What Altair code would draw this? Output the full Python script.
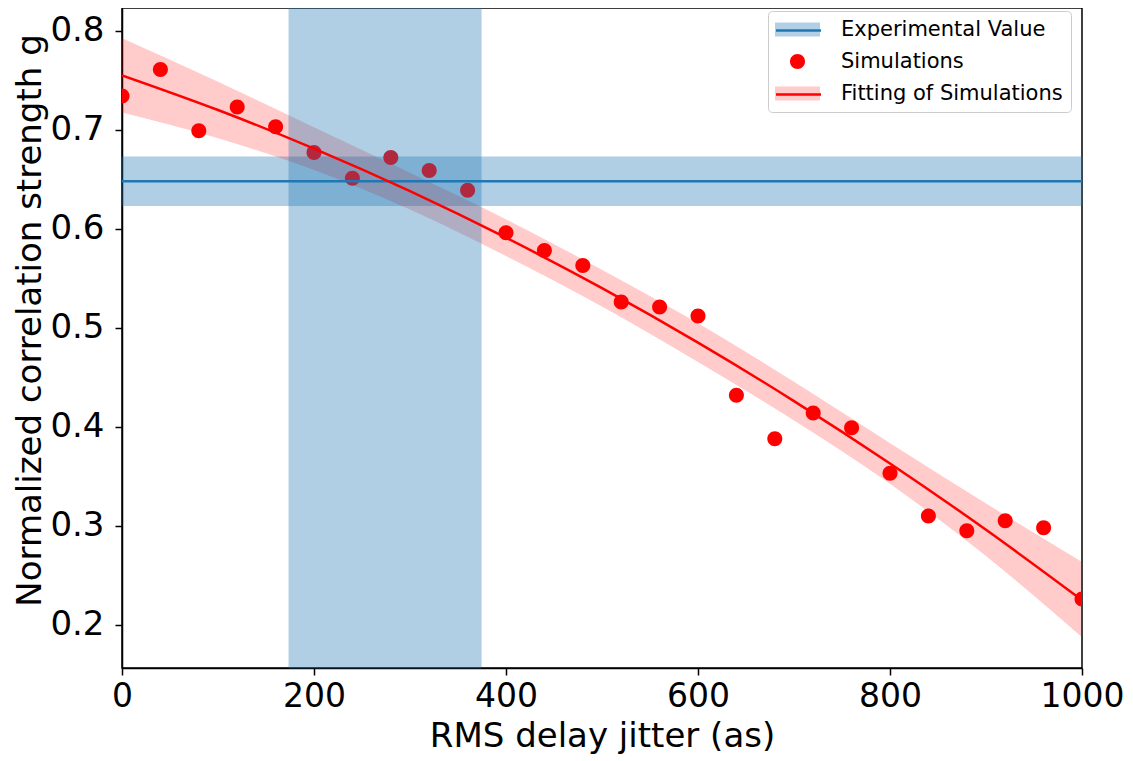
import altair as alt
import pandas as pd

# ---- data ----
jitter = [0, 40, 80, 120, 160, 200, 240, 280, 320, 360, 400, 440, 480,
          520, 560, 600, 640, 680, 720, 760, 800, 840, 880, 920, 960, 1000]
sim_g = [0.734, 0.761, 0.699, 0.723, 0.703, 0.677, 0.651, 0.672, 0.659, 0.639,
         0.596, 0.578, 0.563, 0.526, 0.521, 0.512, 0.432, 0.388, 0.414, 0.399,
         0.353, 0.310, 0.295, 0.305, 0.298, 0.226]

fit_jitter = [0, 100, 200, 300, 400, 500, 600, 700, 800, 900, 1000]
fit_g = [0.755, 0.720, 0.681, 0.638, 0.591, 0.540, 0.485, 0.426, 0.363, 0.296, 0.225]
fit_hi = [0.792, 0.748, 0.702, 0.656, 0.609, 0.558, 0.504, 0.445, 0.383, 0.322, 0.263]
fit_lo = [0.718, 0.692, 0.660, 0.620, 0.573, 0.522, 0.466, 0.407, 0.343, 0.270, 0.188]

exp_g = [0.648]
exp_g_lo = [0.6235]
exp_g_hi = [0.6725]
exp_jitter_lo = [174]
exp_jitter_hi = [374]

legend_labels = ["Experimental Value", "Simulations", "Fitting of Simulations"]
x_ticks = [0, 200, 400, 600, 800, 1000]
y_ticks = [0.2, 0.3, 0.4, 0.5, 0.6, 0.7, 0.8]

FONT = "DejaVu Sans"
BLUE = "#1f77b4"
LIGHT_BLUE = "#b1cfe5"
PINK = "#ffcccc"

# the line legend is drawn over the patch legend; its (invisible) labels get a
# trailing space so that Vega-Lite keeps the two legends apart
line_labels = [s + " " for s in legend_labels]

sim_df = pd.DataFrame({"x": jitter, "g": sim_g, "legA": legend_labels[1]})
fit_df = pd.DataFrame({"x": fit_jitter, "g": fit_g, "lo": fit_lo, "hi": fit_hi,
                       "legB": line_labels[2]})
exp_df = pd.DataFrame({"g": exp_g, "lo": exp_g_lo, "hi": exp_g_hi,
                       "x1": exp_jitter_lo, "x2": exp_jitter_hi,
                       "legB": [line_labels[0]]})

xscale = alt.Scale(domain=[0, 1000], nice=False, zero=False)
yscale = alt.Scale(domain=[0.1564, 0.823], nice=False, zero=False)

xaxis = alt.Axis(values=x_ticks, format="d", title="RMS delay jitter (as)",
                 labelPadding=5, titlePadding=6, labelFlush=False,
                 labelFontSize=33, titleFontSize=34)
yaxis = alt.Axis(values=y_ticks, format=".1f", title="Normalized correlation strength g",
                 labelPadding=11, titlePadding=2, labelFlush=False,
                 titleFontSize=34, titleY=312)

RECT_PATH = "M-2.25,-0.7H2.25V0.7H-2.25Z"
CIRCLE_PATH = "M-0.75,0A0.75,0.75 0 1,0 0.75,0A0.75,0.75 0 1,0 -0.75,0Z"
LINE_PATH = "M-2.25,0H2.25"

common_leg = dict(orient="none", legendX=646, legendY=3, symbolSize=400,
                  labelFontSize=21, labelFont=FONT, padding=8, rowPadding=10,
                  symbolOffset=11, labelOffset=33, labelLimit=400)
legA = alt.Legend(title=None, labelColor="black", fillColor="white",
                  strokeColor="#cccccc", cornerRadius=4, symbolStrokeWidth=0,
                  **common_leg)
legB = alt.Legend(title=None, labelOpacity=0, symbolType=LINE_PATH,
                  symbolStrokeWidth=2.5, **common_leg)

fill_scale = alt.Scale(domain=legend_labels, range=[LIGHT_BLUE, "red", PINK])
shape_scale = alt.Scale(domain=legend_labels, range=[RECT_PATH, CIRCLE_PATH, RECT_PATH])
stroke_scale = alt.Scale(domain=line_labels, range=[BLUE, "transparent", "red"])

hspan = alt.Chart(exp_df).mark_rect(
    color=BLUE, opacity=0.35, stroke=BLUE, strokeWidth=1
).encode(
    y=alt.Y("lo:Q", scale=yscale, axis=yaxis),
    y2="hi:Q",
)

band = alt.Chart(fit_df).mark_area(
    color="red", opacity=0.2, interpolate="monotone", clip=True,
    stroke="red", strokeWidth=1
).encode(
    x=alt.X("x:Q", scale=xscale, axis=xaxis),
    y=alt.Y("lo:Q", scale=yscale),
    y2="hi:Q",
)

pts = alt.Chart(sim_df).mark_point(filled=True, size=400, opacity=1, clip=True).encode(
    x=alt.X("x:Q", scale=xscale),
    y=alt.Y("g:Q", scale=yscale),
    fill=alt.Fill("legA:N", scale=fill_scale, legend=legA),
    shape=alt.Shape("legA:N", scale=shape_scale, legend=legA),
)

vspan = alt.Chart(exp_df).mark_rect(
    color=BLUE, opacity=0.35, stroke=BLUE, strokeWidth=1
).encode(
    x=alt.X("x1:Q", scale=xscale),
    x2="x2:Q",
)

hline = alt.Chart(exp_df).mark_rule(strokeWidth=2.5).encode(
    y=alt.Y("g:Q", scale=yscale),
    stroke=alt.Stroke("legB:N", scale=stroke_scale, legend=legB),
)

fitline = alt.Chart(fit_df).mark_line(strokeWidth=2.5, interpolate="monotone", clip=True).encode(
    x=alt.X("x:Q", scale=xscale),
    y=alt.Y("g:Q", scale=yscale),
    stroke=alt.Stroke("legB:N", scale=stroke_scale, legend=legB),
)

chart = alt.layer(hspan, band, pts, vspan, hline, fitline).properties(
    width=960, height=660,
    autosize=alt.AutoSizeParams(type="none"),
    padding={"left": 114, "top": 0, "right": 43, "bottom": 90},
).configure_view(
    stroke="black", strokeWidth=1.5
).configure_axis(
    grid=False, domainColor="black", domainWidth=1.5, tickColor="black",
    tickWidth=1.5, tickSize=7, labelFontSize=34, titleFontSize=34,
    labelFont=FONT, titleFont=FONT, titleFontWeight="normal",
    labelColor="black", titleColor="black", labelOverlap=False
)

chart.save("out.html", embed_options={"renderer": "svg", "actions": False})
